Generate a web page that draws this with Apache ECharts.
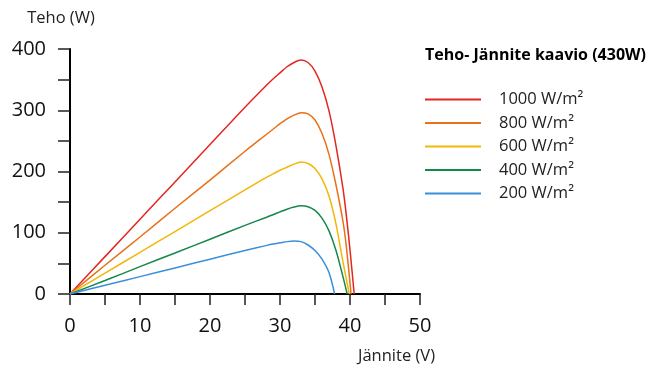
<!DOCTYPE html>
<html>
<head>
<meta charset="utf-8">
<script src="https://cdn.jsdelivr.net/npm/echarts@6/dist/echarts.min.js"></script>
<style>
  html, body { margin: 0; padding: 0; background: #fff; }
  #chart { width: 657px; height: 370px; }
</style>
</head>
<body>
<div id="chart"></div>
<script>
const FONT = '"Open Sans", "Liberation Sans", sans-serif';

const COLORS = {
  g1000: '#e3261f',
  g800:  '#e8711a',
  g600:  '#f2b707',
  g400:  '#14884a',
  g200:  '#3b8fd9',
  axis:  '#000000',
};

// irradiance curves, voltage (V) -> power (W)
const names = ['1000 W/m²', '800 W/m²', '600 W/m²', '400 W/m²', '200 W/m²'];

const volts1000 = [0, 5, 10, 15, 20, 25, 28, 29, 30, 31, 32, 33, 34, 35, 36, 37, 38, 39, 39.5, 40, 40.6];
const power1000 = [0, 61, 122, 183, 244, 305, 340, 351, 361, 371, 378, 382, 378, 364, 338, 299, 242, 172, 126, 72, 0];

const volts800 = [0, 5, 10, 15, 20, 25, 28, 29, 30, 31, 32, 33, 34, 35, 36, 37, 38, 39, 39.5, 40.15];
const power800 = [0, 47, 93, 140, 186, 233, 260, 269, 278, 286, 292, 296, 294, 284, 262, 228, 178, 118, 75, 0];

const volts600 = [0, 5, 10, 15, 20, 25, 28, 29, 30, 31, 32, 33, 34, 35, 36, 37, 38, 39, 39.9];
const power600 = [0, 34, 68, 102, 136, 170, 190, 196, 202, 207, 212, 215.5, 213, 205, 188, 160, 114, 52, 0];

const volts400 = [0, 5, 10, 15, 20, 25, 28, 29, 30, 31, 32, 33, 34, 35, 36, 37, 38, 39, 39.6];
const power400 = [0, 22, 44.7, 67, 89.5, 112, 125, 129.5, 134, 138.5, 142, 144, 142.5, 136.5, 124, 103, 71, 28, 0];

const volts200 = [0, 5, 10, 15, 20, 25, 28, 29, 30, 31, 32, 33, 34, 35, 36, 37, 37.8];
const power200 = [0, 14.2, 28.4, 42.6, 56.8, 71, 79, 81.5, 83.5, 85.5, 86.5, 85.5, 80, 71, 57, 35, 0];

const curves = [
  { v: volts1000, p: power1000, color: COLORS.g1000 },
  { v: volts800,  p: power800,  color: COLORS.g800 },
  { v: volts600,  p: power600,  color: COLORS.g600 },
  { v: volts400,  p: power400,  color: COLORS.g400 },
  { v: volts200,  p: power200,  color: COLORS.g200 },
];

const chart = echarts.init(document.getElementById('chart'), null, { renderer: 'canvas' });

chart.setOption({
  backgroundColor: '#ffffff',
  animation: false,
  textStyle: { fontFamily: FONT },
  title: {
    text: 'Teho- Jännite kaavio (430W)',
    left: 420,
    top: 42,
    textStyle: { fontFamily: FONT, fontSize: 16, fontWeight: 'bold', color: '#000' },
  },
  legend: {
    orient: 'vertical',
    left: 424,
    top: 91,
    padding: 0,
    itemWidth: 56,
    itemHeight: 14,
    itemGap: 6.5,
    data: names,
    itemStyle: { opacity: 0 },
    textStyle: { fontFamily: FONT, fontSize: 16.5, color: '#222', padding: [0, 0, 0, 13] },
  },
  grid: { left: 70, right: 237, top: 49, bottom: 76 },
  xAxis: {
    type: 'value',
    min: 0,
    max: 50,
    interval: 5,
    name: 'Jännite (V)',
    nameLocation: 'end',
    nameGap: 15,
    nameTextStyle: { fontFamily: FONT, fontSize: 16.5, color: '#222', align: 'right', verticalAlign: 'top', padding: [54, 0, 0, 0] },
    axisLine: { onZero: false, lineStyle: { color: COLORS.axis, width: 2 } },
    axisTick: { length: 11, lineStyle: { color: '#222', width: 1.5 } },
    axisLabel: {
      margin: 22,
      fontFamily: FONT,
      fontSize: 20,
      color: '#111',
      formatter: (v) => (v % 10 === 0 ? String(v) : ''),
    },
    splitLine: { show: false },
  },
  yAxis: {
    type: 'value',
    min: 0,
    max: 400,
    interval: 50,
    name: 'Teho (W)',
    nameLocation: 'end',
    nameGap: 22,
    nameTextStyle: { fontFamily: FONT, fontSize: 16.5, color: '#222', padding: [0, 18, 0, 0] },
    axisLine: { show: true, lineStyle: { color: COLORS.axis, width: 2 } },
    axisTick: { show: true, length: 12, lineStyle: { color: '#222', width: 1.5 } },
    axisLabel: {
      margin: 24,
      fontFamily: FONT,
      fontSize: 20,
      color: '#111',
      formatter: (v) => (v % 100 === 0 ? String(v) : ''),
    },
    splitLine: { show: false },
  },
  series: curves.map((c, i) => ({
    name: names[i],
    type: 'line',
    data: c.v.map((v, j) => [v, c.p[j]]),
    symbol: 'none',
    smooth: 0.3,
    color: c.color,
    lineStyle: { color: c.color, width: 1.5 },
  })),
});
</script>
</body>
</html>
